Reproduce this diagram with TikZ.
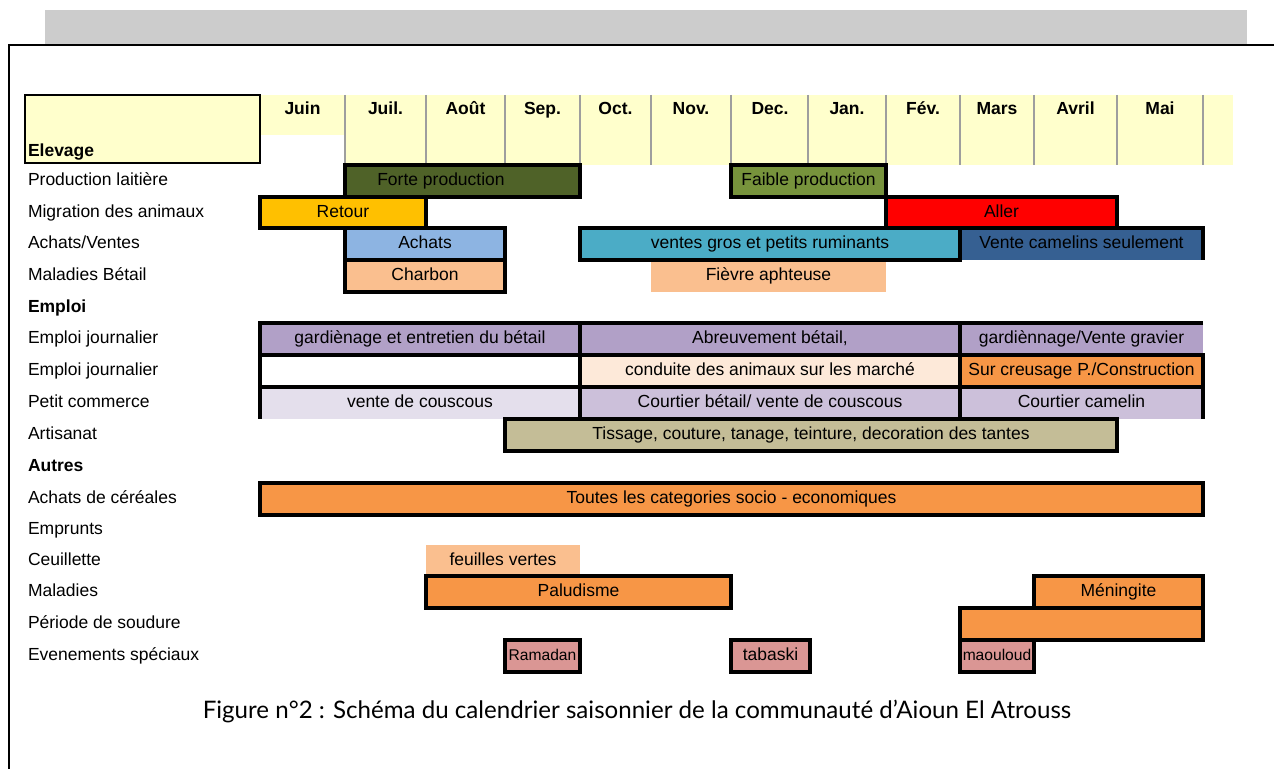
\documentclass[tikz,border=0pt]{standalone}
\usepackage{fontspec}
\setmainfont{Liberation Sans}
\newfontfamily\capfont{Lato}
\definecolor{graybar}{HTML}{CCCCCC}
\definecolor{hdr}{HTML}{FFFFCC}
\definecolor{cforte}{HTML}{4F6228}
\definecolor{cfaible}{HTML}{77933C}
\definecolor{cretour}{HTML}{FFC000}
\definecolor{caller}{HTML}{FF0000}
\definecolor{cachats}{HTML}{8DB4E2}
\definecolor{cventes}{HTML}{4BACC6}
\definecolor{ccamel}{HTML}{366092}
\definecolor{cpeach}{HTML}{FABF8F}
\definecolor{cviolet}{HTML}{B1A0C7}
\definecolor{clpeach}{HTML}{FDE9D9}
\definecolor{corange}{HTML}{F79646}
\definecolor{clilac}{HTML}{E4DFEC}
\definecolor{cmauve}{HTML}{CCC0DA}
\definecolor{ckhaki}{HTML}{C4BD97}
\definecolor{crose}{HTML}{DA9694}
% #1 style, #2 name, #3 x1, #4 x2, #5 y1, #6 y2, #7 text  (coordinates in px)
\newcommand\mkcell[7]{%
  \pgfmathsetmacro\cw{(#4-#3)*0.5}\pgfmathsetmacro\ch{(#6-#5)*0.5}%
  \node[#1, minimum width=\cw pt, minimum height=\ch pt] (#2) at ({(#3+#4)/2},{(#5+#6)/2}) {#7};}
\begin{document}
\begin{tikzpicture}[x=0.5pt,y=-0.5pt,
  every node/.style={font=\fontsize{8.75}{10}\selectfont, inner sep=0pt, outer sep=0pt,
    text height=6.4pt, text depth=1.8pt},
  bar/.style={draw=black, line width=1.8pt},
  nob/.style={draw=none},
  edge/.style={line width=1.8pt},
  rowlab/.style={anchor=west},
  sect/.style={anchor=west, font=\bfseries\fontsize{8.75}{10}\selectfont},
  month/.style={font=\bfseries\fontsize{8.75}{10}\selectfont},
  small/.style={font=\fontsize{7.8}{9}\selectfont, text height=5.7pt, text depth=1.6pt},
  sep/.style={draw=black!38, line width=1pt}]
\useasboundingbox (0,0) rectangle (1274,769);
% top gray band and frame
\fill[graybar] (45,10) rectangle (1247,45);
\draw[line width=1pt] (9,769) -- (9,45.5) -- (1274,45.5);
% header
\fill[hdr] (345,95) rectangle (1233,165);
\fill[hdr] (260,95) rectangle (345,135);
\foreach \x in {345,426,505,580,651,731,808,886,960,1034,1117,1203}
  \draw[sep] (\x,95) -- (\x,165);
\mkcell{draw=black, line width=1.4pt, fill=hdr}{elevbox}{25}{260}{95}{163}{}
\node[sect] (elev) at (28,152) {Elevage};
\node[month] (m1) at (302.5,110) {Juin};
\node[month] (m2) at (385.5,110) {Juil.};
\node[month] (m3) at (465.5,110) {Août};
\node[month] (m4) at (542.5,110) {Sep.};
\node[month] (m5) at (615.5,110) {Oct.};
\node[month] (m6) at (691,110) {Nov.};
\node[month] (m7) at (770,110) {Dec.};
\node[month] (m8) at (847,110) {Jan.};
\node[month] (m9) at (923,110) {Fév.};
\node[month] (m10) at (997,110) {Mars};
\node[month] (m11) at (1075.5,110) {Avril};
\node[month] (m12) at (1160,110) {Mai};
% row labels
\node[rowlab] (l1) at (28,181) {Production laitière};
\node[rowlab] (l2) at (28,212.5) {Migration des animaux};
\node[rowlab] (l3) at (28,244) {Achats/Ventes};
\node[rowlab] (l4) at (28,276) {Maladies Bétail};
\node[sect] (l5) at (28,307.5) {Emploi};
\node[rowlab] (l6) at (28,339) {Emploi journalier};
\node[rowlab] (l7) at (28,371) {Emploi journalier};
\node[rowlab] (l8) at (28,403) {Petit commerce};
\node[rowlab] (l9) at (28,435) {Artisanat};
\node[sect] (l10) at (28,467) {Autres};
\node[rowlab] (l11) at (28,499) {Achats de céréales};
\node[rowlab] (l12) at (28,530) {Emprunts};
\node[rowlab] (l13) at (28,560.5) {Ceuillette};
\node[rowlab] (l14) at (28,592) {Maladies};
\node[rowlab] (l15) at (28,624) {Période de soudure};
\node[rowlab] (l16) at (28,656) {Evenements spéciaux};
% borderless cells first
\mkcell{nob, fill=cpeach}{fievre}{651}{886}{260}{292}{Fièvre aphteuse}
\mkcell{nob, fill=cpeach}{feuilles}{426}{580}{545}{576}{feuilles vertes}
\mkcell{nob, fill=ccamel}{camel}{960}{1203}{228}{260}{Vente camelins seulement}
\mkcell{nob, fill=cviolet}{gravier}{960}{1203}{323}{355}{gardiènnage/Vente gravier}
\mkcell{nob, fill=clilac}{couscous}{260}{580}{387}{419}{vente de couscous}
\mkcell{nob, fill=cmauve}{camelin}{960}{1203}{387}{419}{Courtier camelin}
% bordered cells
\mkcell{bar, fill=cforte}{forte}{345}{580}{165}{197}{}
\node (fortetxt) at (441,181) {Forte production};
\mkcell{bar, fill=cfaible}{faible}{731}{886}{165}{197}{Faible production}
\mkcell{bar, fill=cretour}{retour}{260}{426}{197}{228}{Retour}
\mkcell{bar, fill=caller}{aller}{886}{1117}{197}{228}{Aller}
\mkcell{bar, fill=cachats}{achats}{345}{505}{228}{260}{Achats}
\mkcell{bar, fill=cventes}{ventes}{580}{960}{228}{260}{ventes gros et petits ruminants}
\mkcell{bar, fill=cpeach}{charbon}{345}{505}{260}{292}{Charbon}
\mkcell{bar, fill=cviolet}{garde}{260}{580}{323}{355}{gardiènage et entretien du bétail}
\mkcell{bar, fill=cviolet}{abreuv}{580}{960}{323}{355}{Abreuvement bétail,}
\mkcell{bar, fill=white}{vide}{260}{580}{355}{387}{}
\mkcell{bar, fill=clpeach}{conduite}{580}{960}{355}{387}{conduite des animaux sur les marché}
\mkcell{bar, fill=corange}{creusage}{960}{1203}{355}{387}{Sur creusage P./Construction}
\mkcell{bar, fill=cmauve}{courtier}{580}{960}{387}{419}{Courtier bétail/ vente de couscous}
\mkcell{bar, fill=ckhaki}{tissage}{505}{1117}{419}{451}{Tissage, couture, tanage, teinture, decoration des tantes}
\mkcell{bar, fill=corange}{cereales}{260}{1203}{483}{515}{Toutes les categories socio - economiques}
\mkcell{bar, fill=corange}{palu}{426}{731}{576}{608}{Paludisme}
\mkcell{bar, fill=corange}{mening}{1034}{1203}{576}{608}{Méningite}
\mkcell{bar, fill=corange}{soudure}{960}{1203}{608}{640}{}
\mkcell{bar, small, fill=crose}{ramadan}{505}{580}{640}{672}{Ramadan}
\mkcell{bar, fill=crose}{tabaski}{731}{810}{640}{672}{tabaski}
\mkcell{bar, small, fill=crose}{maouloud}{960}{1034}{640}{672}{maouloud}
% partial borders
\draw[edge] (camel.south west) -- (camel.north west) -- (camel.north east) -- (camel.south east);
\draw[edge] (gravier.north east) -- (gravier.north west) -- (gravier.south west) -- (gravier.south east);
\draw[edge] (couscous.south west) -- (couscous.north west) -- (couscous.north east) -- (couscous.south east);
\draw[edge] (camelin.south west) -- (camelin.north west) -- (camelin.north east) -- (camelin.south east);
% caption
\node[font=\capfont\fontsize{12.05}{14}\selectfont, text height=8.5pt, text depth=2.5pt] (caption) at (637,712) {Figure n°2 : Schéma du calendrier saisonnier de la communauté d’Aioun El Atrouss};
\end{tikzpicture}
\end{document}
